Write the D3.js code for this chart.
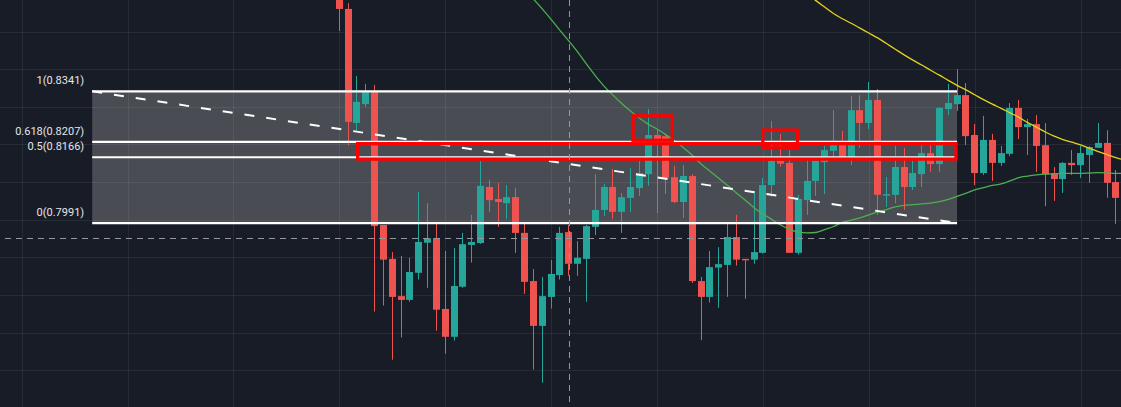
<!DOCTYPE html>
<html><head><meta charset="utf-8">
<script src="https://cdn.jsdelivr.net/npm/d3@7"></script>
<style>html,body{margin:0;padding:0;background:#181c27;overflow:hidden}</style>
</head><body>
<svg id="chart" width="1121" height="407"></svg>
<script>
// ---- data (bar index 0 = first visible candle) ----
const opens = [0.8637,0.8560,0.8257,0.8307,0.8339,0.7986,0.7896,0.7797,0.7787,0.7859,
0.7939,0.7951,0.7763,0.7689,0.7822,0.7933,0.7938,0.8087,0.8055,0.8044,
0.8060,0.7965,0.7837,0.7718,0.7795,0.7853,0.7967,0.7883,0.7896,0.7981,
0.8026,0.8087,0.8021,0.8058,0.8084,0.8121,0.8225,0.8222,0.8113,0.8047,
0.8116,0.7837,0.7795,0.7873,0.7880,0.7954,0.7896,0.7894,0.7912,0.8092,
0.8156,0.8151,0.7912,0.8052,0.8103,0.8153,0.8183,0.8209,0.8164,0.8291,
0.8257,0.8318,0.8066,0.8066,0.8140,0.8087,0.8121,0.8177,0.8148,0.8294,
0.8307,0.8331,0.8225,0.8124,0.8212,0.8151,0.8175,0.8297,0.8246,0.8254,
0.8198,0.8124,0.8108,0.8151,0.8145,0.8172,0.8191,0.8204,0.8100];
const highs = [0.8663,0.8575,0.8382,0.8361,0.8358,0.7986,0.7914,0.7904,0.7899,0.8074,
0.8044,0.7989,0.7917,0.7925,0.7965,0.8013,0.8156,0.8106,0.8098,0.8092,
0.8084,0.7989,0.7869,0.7848,0.7893,0.7981,0.7986,0.7943,0.7986,0.8121,
0.8095,0.8135,0.8071,0.8137,0.8156,0.8294,0.8238,0.8225,0.8143,0.8145,
0.8121,0.7848,0.7917,0.7927,0.7989,0.8013,0.7896,0.8076,0.8111,0.8262,
0.8228,0.8185,0.8066,0.8159,0.8159,0.8196,0.8291,0.8236,0.8329,0.8331,
0.8366,0.8347,0.8113,0.8196,0.8191,0.8156,0.8198,0.8209,0.8299,0.8361,
0.8400,0.8363,0.8254,0.8276,0.8228,0.8196,0.8310,0.8318,0.8268,0.8278,
0.8257,0.8140,0.8153,0.8185,0.8196,0.8196,0.8257,0.8238,0.8132];
const lows = [0.8501,0.8197,0.8233,0.8299,0.7756,0.7772,0.7628,0.7687,0.7782,0.7841,
0.7819,0.7705,0.7644,0.7679,0.7819,0.7886,0.7936,0.8021,0.7981,0.8002,
0.7912,0.7803,0.7602,0.7567,0.7764,0.7841,0.7851,0.7851,0.7782,0.7959,
0.8010,0.8002,0.7965,0.8021,0.8063,0.8090,0.8018,0.8068,0.8044,0.8005,
0.7832,0.7680,0.7780,0.7766,0.7795,0.7878,0.7790,0.7883,0.7910,0.8061,
0.8141,0.7912,0.7907,0.8013,0.8063,0.8068,0.8164,0.8164,0.8145,0.8191,
0.8241,0.8013,0.8034,0.8044,0.8026,0.8079,0.8087,0.8127,0.8127,0.8278,
0.8289,0.8198,0.8092,0.8119,0.8103,0.8143,0.8169,0.8214,0.8172,0.8127,
0.8036,0.8050,0.8071,0.8119,0.8111,0.8098,0.8191,0.8058,0.7989];
const closes = [0.8560,0.8260,0.8313,0.8339,0.7983,0.7894,0.7795,0.7787,0.7861,0.7941,
0.7951,0.7761,0.7689,0.7824,0.7935,0.7941,0.8090,0.8052,0.8047,0.8060,
0.7965,0.7835,0.7718,0.7797,0.7856,0.7965,0.7883,0.7899,0.7983,0.8026,
0.8087,0.8021,0.8060,0.8087,0.8124,0.8225,0.8214,0.8111,0.8047,0.8116,
0.7837,0.7795,0.7874,0.7882,0.7954,0.7894,0.7894,0.7914,0.8092,0.8156,
0.8149,0.7912,0.8055,0.8103,0.8156,0.8185,0.8198,0.8164,0.8291,0.8257,
0.8318,0.8066,0.8068,0.8140,0.8087,0.8124,0.8177,0.8148,0.8297,0.8310,
0.8331,0.8222,0.8124,0.8212,0.8151,0.8177,0.8297,0.8246,0.8254,0.8196,
0.8121,0.8108,0.8151,0.8145,0.8177,0.8193,0.8204,0.8098,0.8058];

// slow moving average (yellow), first value at bar 53
const slowMAStart = 53;
const slowMA = [0.8600,0.8582,0.8565,0.8548,0.8534,0.8522,0.8509,0.8496,0.8483,0.8468,
0.8453,0.8438,0.8424,0.8411,0.8397,0.8384,0.8370,0.8357,0.8345,0.8332,
0.8319,0.8307,0.8296,0.8284,0.8272,0.8258,0.8246,0.8233,0.8222,0.8213,
0.8206,0.8199,0.8190,0.8181,0.8173,0.8165,0.8158];
// fast moving average (green), first value at bar 22
const fastMAStart = 22;
const fastMA = [0.8586,0.8560,0.8532,0.8503,0.8475,0.8446,0.8414,0.8383,0.8355,0.8331,
0.8309,0.8289,0.8270,0.8254,0.8241,0.8226,0.8210,0.8191,0.8171,0.8148,
0.8129,0.8110,0.8091,0.8071,0.8052,0.8032,0.8015,0.8001,0.7986,0.7975,
0.7967,0.7965,0.7966,0.7974,0.7982,0.7993,0.7999,0.8005,0.8013,0.8021,
0.8027,0.8034,0.8038,0.8040,0.8042,0.8044,0.8048,0.8054,0.8062,0.8070,
0.8079,0.8085,0.8091,0.8095,0.8103,0.8112,0.8116,0.8119,0.8121,0.8122,
0.8123,0.8123,0.8123,0.8124,0.8125,0.8124,0.8123,0.8123];

const gridPrices = [0.86,0.85,0.84,0.83,0.82,0.81,0.80,0.79,0.78,0.77,0.76,0.75];
const gridBars = [-36,-24,-12,0,12,24,36,48,60,72,84];

// Fibonacci retracement
const fibStartBar = -28, fibEndBar = 70;
const fibRatios = [1, 0.618, 0.5, 0];
const fibPrices = [0.8341, 0.8207, 0.8166, 0.7991];
const fibLabels = ["1(0.8341)", "0.618(0.8207)", "0.5(0.8166)", "0(0.7991)"];

// red highlight boxes: [startBar, endBar, topPrice, bottomPrice]
const boxBars0 = [2.08, 33.28, 47.99];
const boxBars1 = [69.88, 37.73, 51.92];
const boxTop = [0.8202, 0.8276, 0.8238];
const boxBottom = [0.8161, 0.8211, 0.8191];

const crossBar = 26.06, crossPrice = 0.7951;

// ---- drawing ----
const W = 1121, H = 407;
const svg = d3.select("#chart");
const x = d3.scaleLinear().domain([0, 88]).range([339.3, 339.3 + 88 * 8.825]);
const y = d3.scaleLinear().domain([0.85, 0.76]).range([31.5, 370.3]);

svg.append("rect").attr("width", W).attr("height", H).attr("fill", "#181c27");

// fib background
const fx0 = x(fibStartBar), fx1 = x(fibEndBar);
svg.append("rect")
  .attr("x", fx0).attr("y", y(fibPrices[0]))
  .attr("width", fx1 - fx0).attr("height", y(fibPrices[3]) - y(fibPrices[0]))
  .attr("fill", "#4a4c54");

// grid via axes
const gy = svg.append("g").call(d3.axisLeft(y).tickValues(gridPrices).tickSize(-W).tickFormat(""));
gy.select(".domain").remove();
gy.selectAll("line").attr("stroke", "rgba(255,255,255,0.065)").attr("shape-rendering", "crispEdges");
const gx = svg.append("g").call(d3.axisTop(x).tickValues(gridBars).tickSize(-H).tickFormat(""));
gx.select(".domain").remove();
gx.selectAll("line").attr("stroke", "rgba(255,255,255,0.065)").attr("shape-rendering", "crispEdges");

// candles
const bars = d3.range(opens.length).map(i => ({i, o: opens[i], h: highs[i], l: lows[i], c: closes[i]}));
const up = "#26a69a", dn = "#ef5350";
const cg = svg.append("g");
cg.selectAll("line").data(bars).join("line")
  .attr("x1", d => Math.floor(x(d.i)) + 0.5).attr("x2", d => Math.floor(x(d.i)) + 0.5)
  .attr("y1", d => y(d.h)).attr("y2", d => y(d.l))
  .attr("stroke", d => d.c >= d.o ? up : dn).attr("stroke-width", 1);
cg.selectAll("rect").data(bars).join("rect")
  .attr("x", d => Math.floor(x(d.i)) - 3).attr("width", 7)
  .attr("y", d => y(Math.max(d.o, d.c)))
  .attr("height", d => Math.max(1.5, Math.abs(y(d.o) - y(d.c))))
  .attr("fill", d => d.c >= d.o ? up : dn);

// moving averages
const line = d3.line().x(d => x(d[0])).y(d => y(d[1])).curve(d3.curveMonotoneX);
svg.append("path").datum(fastMA.map((v, k) => [fastMAStart + k, v]))
  .attr("d", line).attr("fill", "none").attr("stroke", "#4caf50").attr("stroke-width", 1.3);
svg.append("path").datum(slowMA.map((v, k) => [slowMAStart + k, v]))
  .attr("d", line).attr("fill", "none").attr("stroke", "#e2d21c").attr("stroke-width", 1.3);

// fib level lines
svg.append("g").selectAll("line").data(fibPrices).join("line")
  .attr("x1", fx0).attr("x2", fx1).attr("y1", d => y(d)).attr("y2", d => y(d))
  .attr("stroke", "#ffffff").attr("stroke-width", 2.2);

// fib trend line (dashed)
svg.append("line")
  .attr("x1", fx0).attr("y1", y(fibPrices[0])).attr("x2", fx1).attr("y2", y(fibPrices[3]))
  .attr("stroke", "#ffffff").attr("stroke-width", 2).attr("stroke-dasharray", "10,12");

// fib labels
svg.append("g").selectAll("text").data(fibLabels).join("text")
  .attr("x", fx0 - 8).attr("y", (d, k) => y(fibPrices[k]) - 7)
  .attr("text-anchor", "end").attr("fill", "#e3e5ea")
  .attr("font-family", "Roboto, 'Noto Sans', sans-serif").attr("font-size", 11)
  .text(d => d);

// red highlight boxes
svg.append("g").selectAll("rect").data(boxTop).join("rect")
  .attr("x", (d, k) => x(boxBars0[k])).attr("width", (d, k) => x(boxBars1[k]) - x(boxBars0[k]))
  .attr("y", d => y(d)).attr("height", (d, k) => y(boxBottom[k]) - y(d))
  .attr("fill", "none").attr("stroke", "#ff0000").attr("stroke-width", 3.3);

// crosshair
svg.append("line").attr("x1", Math.floor(x(crossBar)) + 0.5).attr("x2", Math.floor(x(crossBar)) + 0.5)
  .attr("y1", 0).attr("y2", H)
  .attr("stroke", "#9598a1").attr("stroke-width", 1).attr("stroke-dasharray", "6,5");
svg.append("line").attr("x1", 5).attr("x2", W)
  .attr("y1", Math.floor(y(crossPrice)) + 0.5).attr("y2", Math.floor(y(crossPrice)) + 0.5)
  .attr("stroke", "#9598a1").attr("stroke-width", 1).attr("stroke-dasharray", "6,5");
</script>
</body></html>
